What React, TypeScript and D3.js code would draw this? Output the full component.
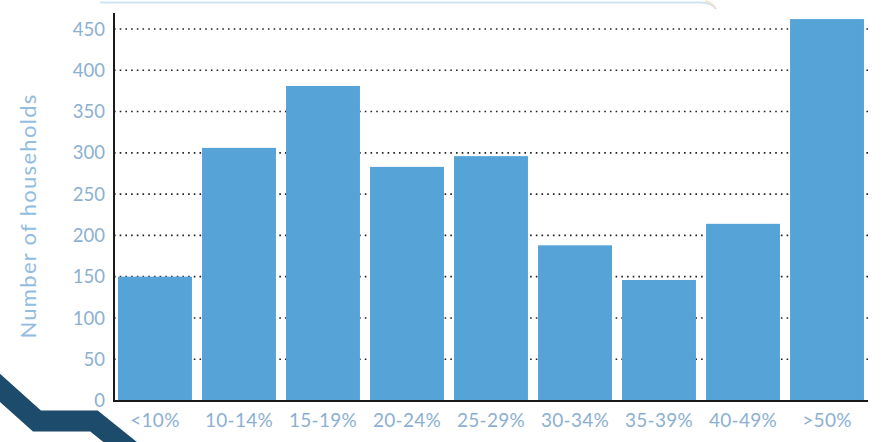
import React from "react";
import * as d3 from "d3";

const categories = ["<10%", "10-14%", "15-19%", "20-24%", "25-29%", "30-34%", "35-39%", "40-49%", ">50%"];
const households = [150, 306, 381, 283, 296, 188, 146, 214, 462];
const yTicks = [0, 50, 100, 150, 200, 250, 300, 350, 400, 450];
const yLabel = "Number of households";

export default function App() {
  const W = 888, H = 442;
  const x0 = 114, x1 = 868, yBase = 400.5;
  const x = d3.scaleBand<string>().domain(categories).range([x0, x1]).paddingInner(0.12).paddingOuter(0.048);
  const y = d3.scaleLinear().domain([0, 450]).range([yBase, 29]);
  const font = "Lato, 'Open Sans', sans-serif";
  const labelColor = "#8cb0d2";
  const navy = d3.line()([[-10, 379], [37, 421], [94, 421], [140, 458]]);
  return (
    <div style={{ position: "absolute", left: 0, top: 0 }}>
      <svg width={W} height={H} style={{ display: "block", background: "#fff" }}>
        <path d="M100,2.5 L700,2.5 Q712,2.5 716,9" fill="none" stroke="#cfe5f3" strokeWidth={2} />
        <path d="M705,1 Q712,2 716,9" fill="none" stroke="#f5dcc0" strokeWidth={2} opacity={0.7} />
        {yTicks.filter(t => t > 0).map(t => (
          <line key={"g" + t} x1={x0} x2={x1} y1={y(t)} y2={y(t)} stroke="#222" strokeWidth={1.6}
            strokeDasharray="1.6,4.1" />
        ))}
        {categories.map((c, i) => (
          <rect key={c} x={x(c)} y={y(households[i])} width={x.bandwidth()} height={yBase - y(households[i])}
            fill="#56a3d7" />
        ))}
        <line x1={x0} x2={x0} y1={13} y2={yBase + 1} stroke="#1a1a1a" strokeWidth={2} />
        <line x1={x0 - 1} x2={x1} y1={yBase + 0.5} y2={yBase + 0.5} stroke="#1a1a1a" strokeWidth={2} />
        {yTicks.map(t => (
          <text key={"t" + t} x={105} y={y(t)} dy="0.36em" textAnchor="end" fontFamily={font} fontSize={18.5}
            fill={labelColor}>{t}</text>
        ))}
        {categories.map(c => (
          <text key={"x" + c} x={(x(c) as number) + x.bandwidth() / 2} y={427} textAnchor="middle"
            fontFamily={font} fontSize={19} letterSpacing={0.3} fill={labelColor}>{c}</text>
        ))}
        <text transform="translate(36,216) rotate(-90)" textAnchor="middle" fontFamily={font} fontSize={22}
          letterSpacing={1.3} fill="#93bde0">{yLabel}</text>
        <path d={navy || ""} fill="none" stroke="#1d4b6c" strokeWidth={21} strokeLinejoin="miter" />
      </svg>
    </div>
  );
}
